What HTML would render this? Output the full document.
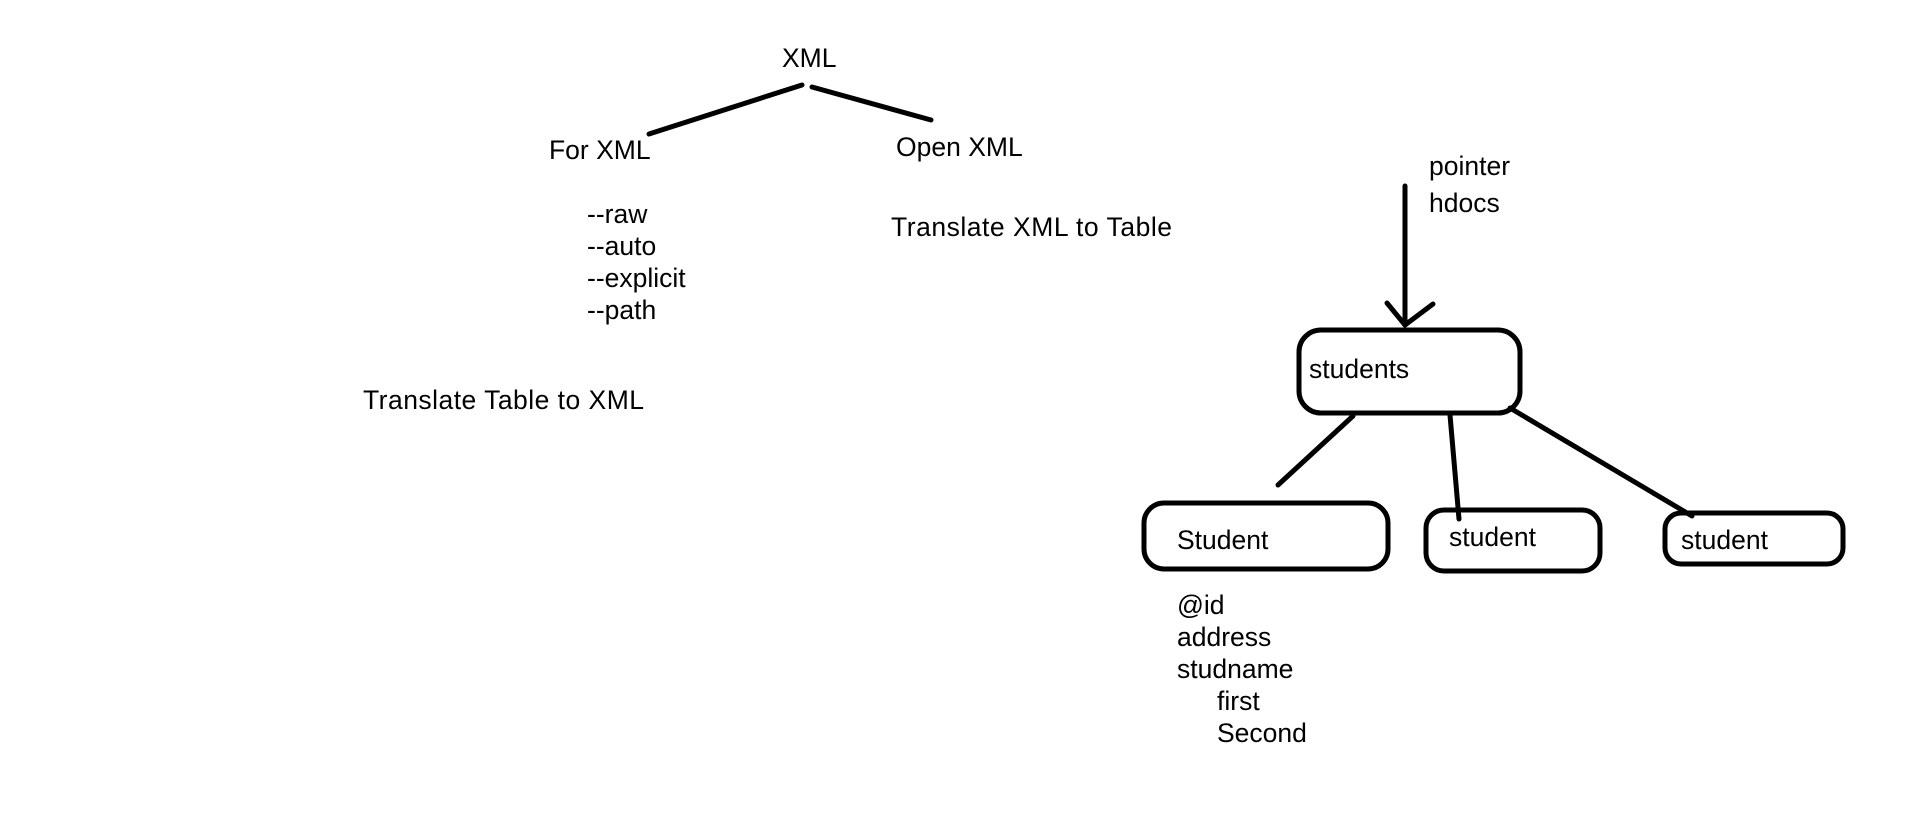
<!DOCTYPE html>
<html><head><meta charset="utf-8"><style>
html,body{margin:0;padding:0;background:#fff;}
svg{display:block}
text{font-family:"Liberation Sans",Arial,sans-serif;font-size:26.5px;fill:#000}
</style></head><body>
<svg width="1914" height="813" viewBox="0 0 1914 813" xmlns="http://www.w3.org/2000/svg">
<g stroke="#000" stroke-width="5" fill="none" stroke-linecap="round" stroke-linejoin="round">
<line x1="649" y1="134" x2="802" y2="85"/>
<line x1="812" y1="87" x2="931" y2="120"/>
<line x1="1405" y1="186" x2="1405" y2="325"/>
<polyline points="1387,303 1405,325 1433,304"/>
<rect x="1299" y="330" width="221" height="83" rx="22"/>
<line x1="1353" y1="416" x2="1278" y2="485"/>
<line x1="1450" y1="415" x2="1459" y2="519"/>
<line x1="1510" y1="408" x2="1692" y2="516"/>
<rect x="1144" y="503" width="244" height="66" rx="20"/>
<rect x="1426" y="510" width="174" height="61" rx="18"/>
<rect x="1665" y="513" width="178" height="51" rx="16"/>
</g>
<text x="782" y="67">XML</text>
<text x="549" y="159">For XML</text>
<text x="896" y="156">Open XML</text>
<text x="587" y="223">--raw</text>
<text x="587" y="255">--auto</text>
<text x="587" y="287">--explicit</text>
<text x="587" y="319">--path</text>
<text x="891" y="236" textLength="281">Translate XML to Table</text>
<text x="363" y="409" textLength="281">Translate Table to XML</text>
<text x="1429" y="175">pointer</text>
<text x="1429" y="212">hdocs</text>
<text x="1309" y="378">students</text>
<text x="1177" y="549">Student</text>
<text x="1449" y="546">student</text>
<text x="1681" y="549">student</text>
<text x="1177" y="614">@id</text>
<text x="1177" y="646">address</text>
<text x="1177" y="678">studname</text>
<text x="1217" y="710">first</text>
<text x="1217" y="742">Second</text>
</svg>
</body></html>
